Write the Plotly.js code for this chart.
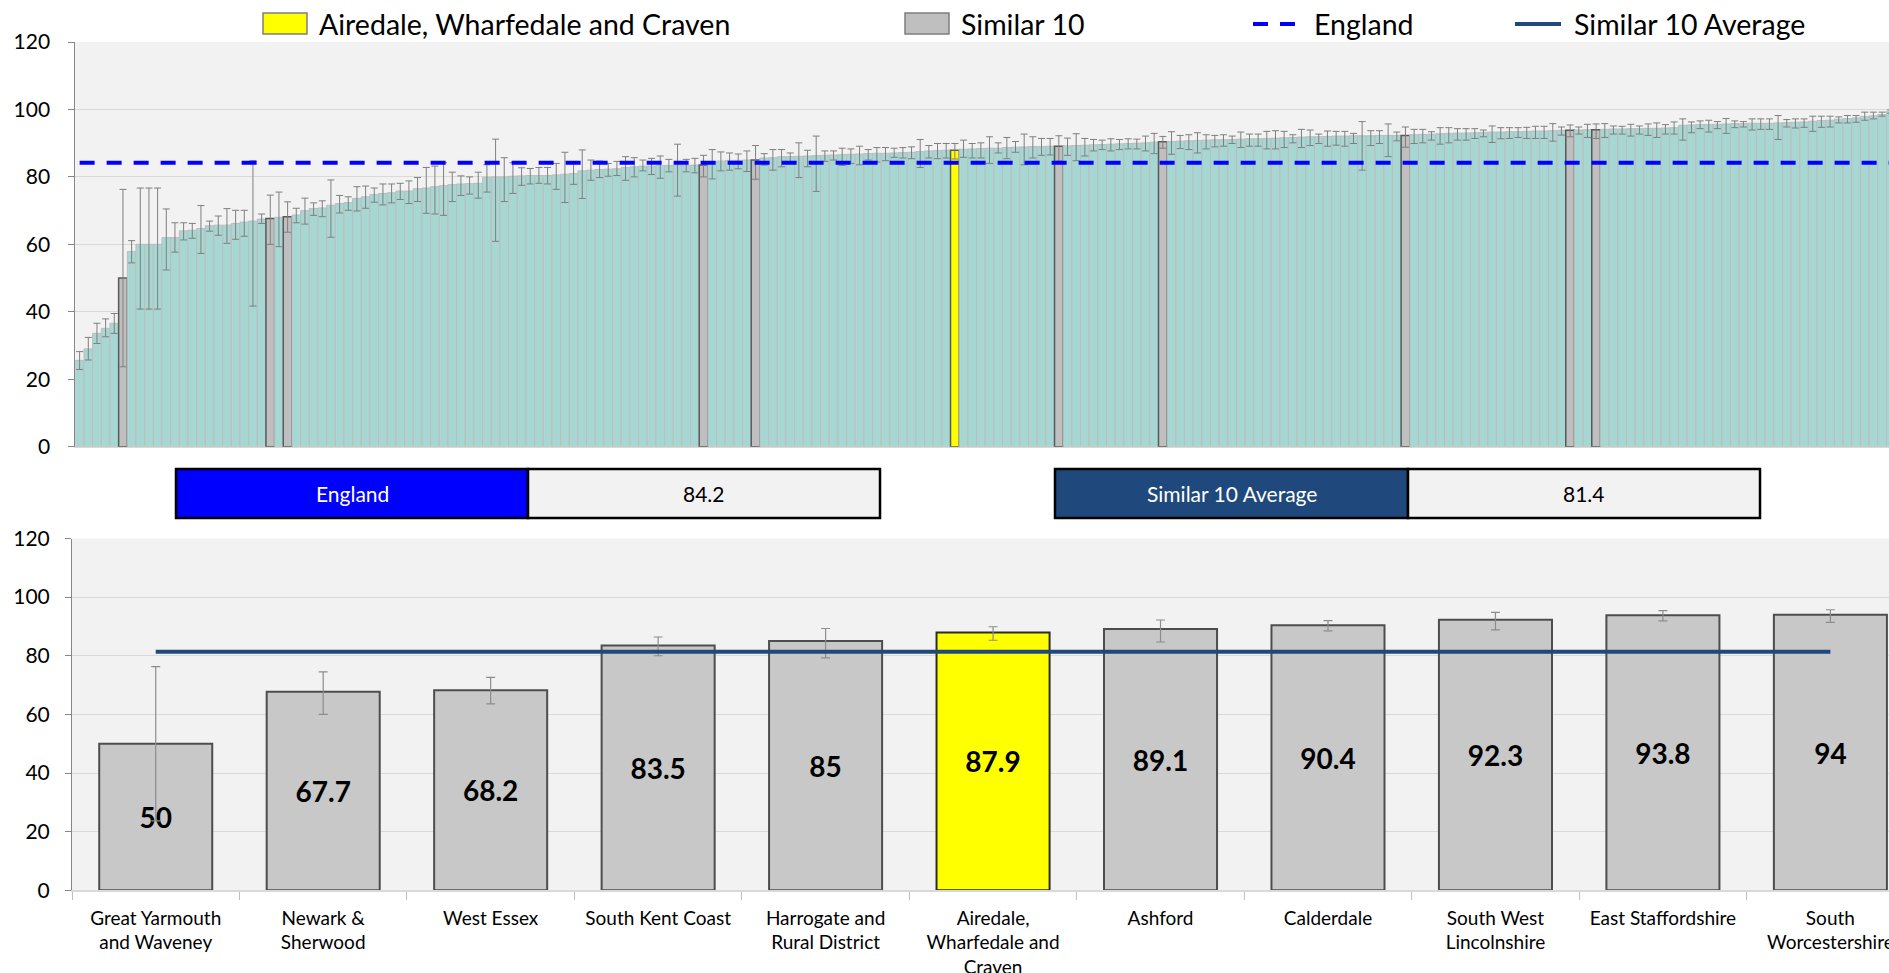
<!DOCTYPE html>
<html>
<head>
<meta charset="utf-8">
<script src="https://cdn.plot.ly/plotly-3.0.1.min.js"></script>
<style>
html,body{margin:0;padding:0;background:#fff;overflow:hidden;}
#chart{width:1889px;height:973px;}
</style>
</head>
<body>
<div id="chart"></div>
<script>
// ---------------- DATA ----------------
// Top chart: all areas, sorted ascending
const allValues = [
25.6,29.0,33.6,35.1,36.6,50.0,57.9,60.0,60.0,60.0,
62.0,62.0,64.0,64.2,64.7,65.5,65.7,65.7,66.2,66.6,
66.9,67.5,67.7,68.0,68.2,68.7,70.0,70.6,70.8,71.6,
72.1,72.4,73.6,74.1,74.8,75.1,75.3,75.8,75.8,76.5,
76.7,77.1,77.4,77.7,77.9,78.0,78.1,79.9,80.0,80.0,
80.2,80.3,80.4,80.4,80.4,80.6,80.8,81.0,81.8,82.0,
82.2,82.3,82.4,82.8,83.0,83.2,83.2,83.4,83.4,83.5,
83.4,83.5,83.5,84.5,84.7,84.9,84.9,85.0,85.0,85.6,
85.7,86.0,86.0,86.1,86.2,86.3,86.4,86.5,86.6,86.7,
86.8,86.9,87.0,87.0,87.1,87.2,87.3,87.5,87.7,87.8,
87.9,87.9,88.2,88.3,88.4,88.5,88.5,88.7,88.8,88.9,
89.0,89.0,89.1,89.1,89.2,89.3,89.4,89.5,89.6,89.7,
89.8,89.9,90.0,90.1,90.3,90.4,90.5,90.6,90.7,90.8,
90.9,91.0,91.0,91.1,91.2,91.3,91.3,91.4,91.5,91.6,
91.7,91.8,91.9,91.9,92.0,92.1,92.1,92.2,92.2,92.2,
92.3,92.3,92.3,92.3,92.5,92.6,92.7,92.8,92.9,93.0,
93.0,93.1,93.2,93.3,93.3,93.4,93.4,93.5,93.6,93.6,
93.7,93.8,93.8,93.9,94.0,94.0,94.1,94.2,94.2,94.3,
94.3,94.4,94.4,94.5,94.6,95.3,95.4,95.5,95.5,95.6,
95.7,95.8,95.8,95.9,95.9,95.9,96.0,96.1,96.2,96.3,
96.5,96.7,96.8,97.1,97.3,97.5,97.9,98.1,98.5,99.5
];
const allUpper = [
28.2,32.4,36.6,37.9,39.5,76.3,61.1,76.7,76.7,76.7,
70.5,66.4,66.4,66.2,71.5,66.9,68.4,70.6,70.1,70.1,
84.8,69.0,74.6,75.5,72.6,70.7,73.7,72.3,72.9,79.1,
74.5,74.1,77.1,77.3,76.7,77.9,77.9,78.1,78.8,79.8,
82.8,83.2,84.2,81.4,80.3,80.0,81.4,83.6,91.2,85.7,
84.2,82.7,82.5,82.8,82.8,84.0,87.3,84.2,88.0,85.0,
84.7,84.0,84.6,86.0,85.7,85.0,85.5,86.2,85.2,89.7,
85.2,85.5,86.4,88.1,87.4,87.1,86.8,87.7,89.3,86.9,
88.1,88.1,87.1,90.1,87.9,92.1,87.7,87.7,88.5,88.3,
89.1,88.1,88.7,88.7,88.5,88.7,88.9,91.1,89.3,89.9,
89.9,89.9,90.9,89.9,90.1,91.9,90.1,91.7,90.5,92.7,
91.9,91.4,91.4,92.2,91.5,92.8,91.4,91.1,90.9,91.3,
91.1,91.3,91.2,92.1,92.9,92.0,93.4,92.3,92.5,93.1,
92.5,92.3,92.5,92.1,93.3,92.7,92.7,93.5,93.7,93.5,
92.5,94.1,93.9,92.7,93.6,93.5,93.5,92.9,96.4,93.7,
93.7,95.7,93.3,94.8,94.1,94.1,93.4,94.6,94.6,94.3,
94.3,94.3,93.9,95.1,94.6,94.6,94.6,94.7,95.0,95.0,
95.8,94.8,95.4,94.8,95.6,95.7,95.8,95.1,95.0,95.6,
95.1,95.7,96.0,95.5,96.3,97.2,96.3,96.6,96.8,96.4,
97.3,96.6,96.4,97.2,97.2,97.2,98.2,97.0,97.2,97.2,
98.0,98.0,98.0,97.8,98.2,98.2,99.2,99.2,99.2,99.9
];
const allLower = [
22.9,25.7,30.6,32.6,33.6,23.7,54.5,40.8,40.8,40.8,
52.4,57.7,61.3,61.8,57.3,63.9,62.7,60.3,61.5,62.4,
41.7,66.2,60.0,59.3,63.6,66.4,66.0,68.6,68.2,62.1,
69.3,70.1,69.9,70.7,72.5,71.7,72.3,73.3,72.1,72.7,
69.2,69.0,68.6,72.7,74.5,74.9,73.7,75.5,60.9,72.7,
75.1,77.5,77.9,78.1,77.9,76.3,72.4,77.8,73.6,79.0,
79.8,80.2,80.4,79.0,80.0,81.8,80.7,79.6,81.5,74.3,
81.5,81.2,80.0,79.4,81.8,82.0,82.4,81.6,79.3,83.5,
82.0,83.0,84.2,79.8,83.0,75.7,84.6,85.0,83.4,84.0,
83.6,85.0,84.4,84.8,85.8,85.6,85.4,82.8,85.6,85.4,
85.6,85.3,85.8,85.6,85.6,84.0,87.1,85.4,87.3,83.6,
85.6,86.4,86.5,84.7,86.4,84.8,86.2,87.7,88.1,87.7,
88.1,88.3,88.3,87.7,86.9,88.5,86.7,88.4,88.1,87.1,
88.3,88.9,89.1,89.9,88.7,89.1,89.1,88.3,88.3,88.7,
90.1,88.7,89.3,89.9,89.1,89.4,89.1,89.9,82.0,89.3,
89.9,86.0,90.7,88.8,89.9,90.1,90.9,89.7,90.1,90.9,
90.9,91.4,91.9,90.2,91.3,91.4,91.7,91.4,91.4,91.4,
90.6,92.4,91.9,92.7,91.7,91.4,91.7,92.7,92.7,92.1,
92.7,92.3,91.7,92.7,92.7,90.9,93.1,94.3,93.3,94.3,
92.9,94.6,94.8,93.9,94.1,94.1,91.1,94.8,94.5,94.7,
93.5,94.7,94.8,96.0,96.0,96.2,96.8,97.2,98.0,98.9
];
// Rank positions of the highlighted areas in the top chart
const similarRanks = [5,22,24,72,78,113,125,153,172,175];
const localRank = 101;

// Bottom chart: the similar 10 (plus local area)
const similarNames = [
  "Great Yarmouth<br>and Waveney","Newark &<br>Sherwood","West Essex","South Kent Coast",
  "Harrogate and<br>Rural District","Airedale,<br>Wharfedale and<br>Craven","Ashford","Calderdale",
  "South West<br>Lincolnshire","East Staffordshire","South<br>Worcestershire"
];
const similarValues = [50, 67.7, 68.2, 83.5, 85, 87.9, 89.1, 90.4, 92.3, 93.8, 94];
const similarUpper  = [76.3, 74.5, 72.6, 86.4, 89.3, 89.9, 92.2, 92.0, 94.8, 95.4, 95.7];
const similarLower  = [23.7, 60.0, 63.6, 80.0, 79.3, 85.3, 84.7, 88.5, 88.8, 91.9, 91.4];
const localName = "Airedale,<br>Wharfedale and<br>Craven";

const ENGLAND = 84.2;
const SIMILAR_AVG = 81.4;
const yTicks = [0, 20, 40, 60, 80, 100, 120];

// ---------------- STYLE / GEOMETRY ----------------
const W = 1889, H = 973;
const FONT = "Lato, 'Liberation Sans', Arial, sans-serif";
const px = x => x / W;
const py = y => 1 - y / H;

const TEAL = '#A6D7D2', GREY = '#BFBFBF', YELLOW = '#FFFF00';

const idx = allValues.map((_, i) => i);
const topColors = idx.map(i => i === localRank ? YELLOW : (similarRanks.includes(i) ? GREY : TEAL));
const topLineColors = idx.map(i => (i === localRank || similarRanks.includes(i)) ? '#595959' : '#BDBDBD');
const topLineWidths = idx.map(i => (i === localRank || similarRanks.includes(i)) ? 1.5 : 1);

const topBars = {
  type: 'bar', x: idx, y: allValues, xaxis: 'x', yaxis: 'y', width: 1,
  marker: {color: topColors, line: {color: topLineColors, width: topLineWidths}},
  error_y: {type: 'data', symmetric: false,
    array: allUpper.map((u, i) => u - allValues[i]),
    arrayminus: allLower.map((l, i) => allValues[i] - l),
    color: '#7F7F7F', thickness: 1, width: 3.5},
  hoverinfo: 'y', showlegend: false
};
const englandLine = {
  type: 'scatter', mode: 'lines', x: idx, y: idx.map(() => ENGLAND), xaxis: 'x', yaxis: 'y',
  line: {color: '#0000FF', width: 4, dash: '15px,12px'}, hoverinfo: 'skip', showlegend: false
};
const bottomColors = similarNames.map(n => n === localName ? YELLOW : '#C8C8C8');
const bottomLineColors = similarNames.map(n => n === localName ? '#2B2B2B' : '#4D4D4D');
const bottomBars = {
  type: 'bar', x: similarNames, y: similarValues, xaxis: 'x2', yaxis: 'y2', width: 0.675,
  marker: {color: bottomColors, line: {color: bottomLineColors, width: 2}},
  text: similarValues.map(v => String(v)), textposition: 'inside', insidetextanchor: 'middle',
  textangle: 0, constraintext: 'none',
  textfont: {family: FONT, size: 28, color: '#000', weight: 'bold'},
  error_y: {type: 'data', symmetric: false,
    array: similarUpper.map((u, i) => u - similarValues[i]),
    arrayminus: similarLower.map((l, i) => similarValues[i] - l),
    color: '#8C8C8C', thickness: 1.2, width: 4.5},
  hoverinfo: 'y', showlegend: false
};
const avgLine = {
  type: 'scatter', mode: 'lines', x: similarNames, y: similarNames.map(() => SIMILAR_AVG),
  xaxis: 'x2', yaxis: 'y2', line: {color: '#1F497D', width: 4}, hoverinfo: 'skip', showlegend: false
};

const yAxisCommon = {
  range: [0, 120], tickvals: yTicks, ticktext: yTicks.map(String),
  showgrid: true, gridcolor: '#D9D9D9', gridwidth: 1,
  showline: true, linecolor: '#868686', linewidth: 1,
  ticks: 'outside', ticklen: 6, tickcolor: '#868686',
  tickfont: {family: FONT, size: 21, color: '#000'},
  zeroline: false, automargin: false, fixedrange: true
};

// ---------------- LEGEND & INFO BOXES ----------------
const shapes = [
  // legend symbols
  {type: 'rect', xref: 'paper', yref: 'paper', x0: px(263), x1: px(307), y0: py(34), y1: py(13),
   fillcolor: YELLOW, line: {color: '#7F7F7F', width: 1.5}},
  {type: 'rect', xref: 'paper', yref: 'paper', x0: px(905), x1: px(949), y0: py(34), y1: py(13),
   fillcolor: GREY, line: {color: '#7F7F7F', width: 1.5}},
  {type: 'line', xref: 'paper', yref: 'paper', x0: px(1253), x1: px(1295), y0: py(24), y1: py(24),
   line: {color: '#0000FF', width: 4, dash: '15px,12px'}},
  {type: 'line', xref: 'paper', yref: 'paper', x0: px(1515), x1: px(1561), y0: py(24), y1: py(24),
   line: {color: '#1F497D', width: 4}},
  // England box
  {type: 'rect', xref: 'paper', yref: 'paper', x0: px(176), x1: px(528), y0: py(518), y1: py(469),
   fillcolor: '#0000FF', line: {color: '#000', width: 2.5}},
  {type: 'rect', xref: 'paper', yref: 'paper', x0: px(528), x1: px(880), y0: py(518), y1: py(469),
   fillcolor: '#F2F2F2', line: {color: '#000', width: 2.5}},
  // Similar 10 Average box
  {type: 'rect', xref: 'paper', yref: 'paper', x0: px(1055), x1: px(1408), y0: py(518), y1: py(469),
   fillcolor: '#1F497D', line: {color: '#000', width: 2.5}},
  {type: 'rect', xref: 'paper', yref: 'paper', x0: px(1408), x1: px(1760), y0: py(518), y1: py(469),
   fillcolor: '#F2F2F2', line: {color: '#000', width: 2.5}}
];
const legFont = {family: FONT, size: 28.5, color: '#000'};
const boxFont = {family: FONT, size: 21};
const ann = (x, y, text, font, xanchor) => ({xref: 'paper', yref: 'paper', x: px(x), y: py(y), text,
  showarrow: false, font, xanchor: xanchor || 'left', yanchor: 'middle'});
const annotations = [
  ann(317, 24, 'Airedale, Wharfedale and Craven', legFont),
  ann(959, 24, 'Similar 10', legFont),
  ann(1312, 24, 'England', legFont),
  ann(1572, 24, 'Similar 10 Average', legFont),
  ann(352, 493.5, 'England', Object.assign({color: '#fff'}, boxFont), 'center'),
  ann(704, 493.5, String(ENGLAND), Object.assign({color: '#000'}, boxFont), 'center'),
  ann(1231.5, 493.5, 'Similar 10 Average', Object.assign({color: '#fff'}, boxFont), 'center'),
  ann(1584, 493.5, String(SIMILAR_AVG), Object.assign({color: '#000'}, boxFont), 'center')
];

const layout = {
  width: W, height: H, margin: {l: 0, r: 0, t: 0, b: 0, pad: 0},
  paper_bgcolor: '#FFFFFF', plot_bgcolor: '#F2F2F2',
  font: {family: FONT, color: '#000'},
  showlegend: false, barmode: 'overlay', bargap: 0,
  xaxis: {domain: [px(75.3), 1], range: [-0.5, 208.8], showticklabels: false, ticks: '',
    showgrid: false, showline: true, linecolor: '#D9D9D9', linewidth: 1.5, zeroline: false,
    automargin: false, fixedrange: true, anchor: 'y'},
  yaxis: Object.assign({}, yAxisCommon, {domain: [py(446.7), py(42)], anchor: 'x', ticklabelstandoff: 14}),
  xaxis2: {domain: [px(72), 1], range: [-0.5, 10.35], type: 'category', anchor: 'y2',
    tickson: 'boundaries', ticks: 'outside', ticklen: 8, tickcolor: '#BFBFBF',
    showgrid: false, showline: true, linecolor: '#D9D9D9', linewidth: 1.5, zeroline: false,
    ticklabelstandoff: 10,
    tickfont: {family: FONT, size: 19, color: '#000'}, tickangle: 0, automargin: false, fixedrange: true},
  yaxis2: Object.assign({}, yAxisCommon, {domain: [py(890.3), py(538.5)], anchor: 'x2', ticklabelstandoff: 11}),
  shapes, annotations
};

Plotly.newPlot('chart', [topBars, englandLine, bottomBars, avgLine], layout,
  {displayModeBar: false, staticPlot: true});
</script>
</body>
</html>
